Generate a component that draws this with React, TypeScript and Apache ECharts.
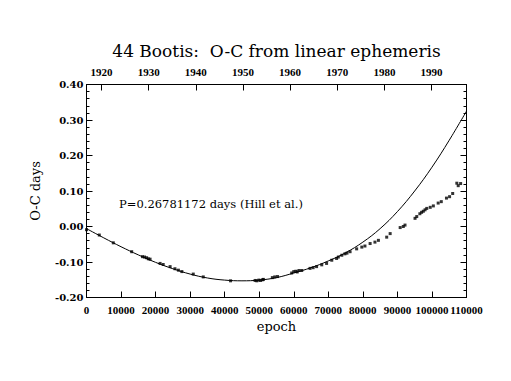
import React, { useEffect, useRef } from "react";
import * as echarts from "echarts";

// ---- data ----
const curveEpochs = [0, 5000, 10000, 15000, 20000, 25000, 30000, 35000, 40000, 45000, 50000, 55000, 60000, 65000, 70000, 75000, 80000, 85000, 90000, 95000, 100000, 105000, 110000];
const curveOC = [-0.006, -0.032, -0.057, -0.08, -0.101, -0.119, -0.134, -0.145, -0.151, -0.153, -0.151, -0.144, -0.131, -0.116, -0.097, -0.074, -0.044, -0.006, 0.042, 0.1, 0.167, 0.243, 0.325];

const obsEpochs = [0, 3700, 7760, 13080, 16200, 16800, 17400, 17900, 18400, 21300, 22200, 24200, 25600, 26600, 27600, 30900, 33800, 41700, 48800, 49300, 49900, 50400, 51000, 51200, 53800, 54500, 55300, 59400, 60000, 60600, 61000, 61500, 62300, 64700, 65600, 66600, 68100, 69500, 71000, 72400, 72900, 73900, 74800, 75400, 76300, 78200, 79700, 80600, 82100, 83500, 84500, 86900, 87900, 90800, 91700, 92200, 95100, 95600, 96500, 97000, 97500, 98000, 98500, 99500, 100400, 101800, 102700, 104200, 105100, 106000, 107200, 107600, 108300];
const obsOC = [-0.009, -0.024, -0.046, -0.071, -0.085, -0.086, -0.088, -0.091, -0.092, -0.104, -0.107, -0.113, -0.119, -0.123, -0.127, -0.134, -0.142, -0.153, -0.152, -0.153, -0.151, -0.152, -0.15, -0.149, -0.144, -0.142, -0.141, -0.131, -0.127, -0.126, -0.128, -0.124, -0.124, -0.118, -0.116, -0.113, -0.108, -0.104, -0.095, -0.09, -0.086, -0.081, -0.077, -0.075, -0.071, -0.063, -0.058, -0.055, -0.048, -0.044, -0.039, -0.03, -0.02, -0.003, 0.0, 0.004, 0.023, 0.028, 0.036, 0.04, 0.043, 0.047, 0.051, 0.054, 0.058, 0.066, 0.07, 0.08, 0.084, 0.093, 0.122, 0.115, 0.121];

const epochMin = 0;
const epochMax = 110000;
const epochStep = 10000;
const yearMin = 1916.8;
const yearMax = 1997.42;
const ocMin = -0.2;
const ocMax = 0.4;
const ocStep = 0.1;

const titleText = "44 Bootis:  O-C from linear ephemeris";
const noteText = "P=0.26781172 days (Hill et al.)";
const xName = "epoch";
const yName = "O-C days";

export default function App() {
  const ref = useRef<HTMLDivElement>(null);

  useEffect(() => {
    if (!ref.current) return;
    const chart = echarts.init(ref.current, undefined, { renderer: "svg" });
    const black = "#000";
    const lineAxis = { show: true, onZero: false, lineStyle: { color: black, width: 1 } };
    const tick = { show: true, inside: true, length: 6, lineStyle: { color: black, width: 1 } };
    const minor = { show: true, splitNumber: 5, length: 3, lineStyle: { color: black, width: 1 } };
    const xLabelStyle = { color: black, fontFamily: "Liberation Serif", fontWeight: "bold" as const, fontSize: 11 };
    const yLabelStyle = { color: black, fontFamily: "DejaVu Serif", fontWeight: "bold" as const, fontSize: 10 };
    const nameStyle = { color: black, fontFamily: "DejaVu Serif", fontSize: 13 };

    chart.setOption({
      animation: false,
      backgroundColor: "#fff",
      grid: { left: 86.5, right: 44.5, top: 84.5, bottom: 83.5, containLabel: false },
      graphic: [
        {
          type: "text",
          x: 276.5,
          y: 51,
          style: { text: titleText, fill: black, font: '17px "DejaVu Serif"', textAlign: "center", textVerticalAlign: "middle" },
        },
        {
          type: "text",
          x: 211,
          y: 204,
          style: { text: noteText, fill: black, font: '11.5px "DejaVu Serif"', textAlign: "center", textVerticalAlign: "middle" },
        },
      ],
      xAxis: [
        {
          type: "value",
          position: "bottom",
          min: epochMin,
          max: epochMax,
          interval: epochStep,
          name: xName,
          nameLocation: "middle",
          nameGap: 22,
          nameTextStyle: nameStyle,
          axisLine: lineAxis,
          axisTick: tick,
          axisLabel: { ...xLabelStyle, margin: 7, formatter: (v: number) => String(v) },
          splitLine: { show: false },
        },
        {
          type: "value",
          position: "top",
          min: yearMin,
          max: yearMax,
          splitNumber: 8,
          axisLine: lineAxis,
          axisTick: tick,
          axisLabel: {
            ...xLabelStyle,
            margin: 7,
            showMinLabel: false,
            showMaxLabel: false,
            formatter: (v: number) => String(Math.round(v)),
          },
          splitLine: { show: false },
        },
      ],
      yAxis: [
        {
          type: "value",
          position: "left",
          min: ocMin,
          max: ocMax,
          interval: ocStep,
          name: yName,
          nameLocation: "middle",
          nameGap: 45,
          nameRotate: 90,
          nameTextStyle: nameStyle,
          axisLine: lineAxis,
          axisTick: tick,
          minorTick: minor,
          axisLabel: { ...yLabelStyle, margin: 3, formatter: (v: number) => v.toFixed(2) },
          splitLine: { show: false },
        },
        {
          type: "value",
          position: "right",
          min: ocMin,
          max: ocMax,
          interval: ocStep,
          axisLine: lineAxis,
          axisTick: tick,
          minorTick: minor,
          axisLabel: { show: false },
          splitLine: { show: false },
        },
      ],
      series: [
        {
          type: "line",
          xAxisIndex: 0,
          yAxisIndex: 0,
          data: curveEpochs.map((e, i) => [e, curveOC[i]]),
          showSymbol: false,
          smooth: 0.4,
          silent: true,
          lineStyle: { color: black, width: 1 },
          z: 2,
        },
        {
          type: "scatter",
          xAxisIndex: 0,
          yAxisIndex: 0,
          data: obsEpochs.map((e, i) => [e, obsOC[i]]),
          symbol: "rect",
          symbolSize: [3, 3],
          itemStyle: { color: black },
          z: 3,
        },
      ],
    });
    return () => chart.dispose();
  }, []);

  return (
    <div
      ref={ref}
      style={{ position: "absolute", left: 0, top: 0, width: 511, height: 381, background: "#fff" }}
    />
  );
}
